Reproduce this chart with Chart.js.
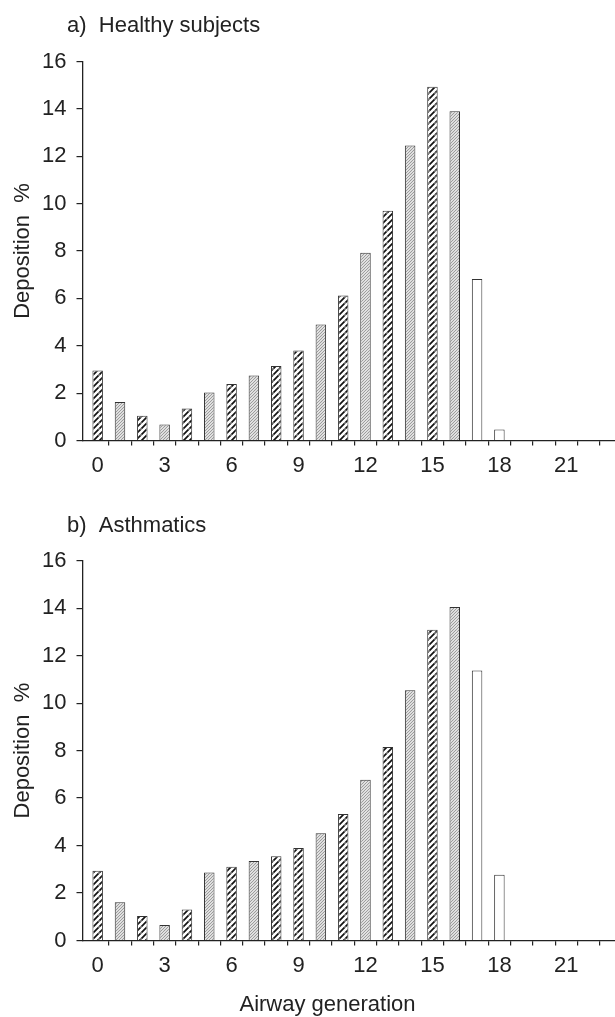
<!DOCTYPE html>
<html>
<head>
<meta charset="utf-8">
<script src="https://cdn.jsdelivr.net/npm/chart.js@4"></script>
<style>
  html, body { margin: 0; padding: 0; background: #fff; overflow: hidden; }
  canvas { display: block; }
</style>
</head>
<body>
<canvas id="healthyChart" width="615" height="480"></canvas>
<canvas id="asthmaChart" width="615" height="537"></canvas>
<script>
// airway generations 0..23
const generations = [0, 1, 2, 3, 4, 5, 6, 7, 8, 9, 10, 11, 12, 13, 14, 15, 16, 17, 18, 19, 20, 21, 22, 23];
const xTickLabels = ['0', '3', '6', '9', '12', '15', '18', '21'];
const yTicks = [0, 2, 4, 6, 8, 10, 12, 14, 16];

// deposition % per generation
const healthyDeposition = [2.95, 1.63, 1.05, 0.68, 1.35, 2.03, 2.38, 2.74, 3.15, 3.8, 4.9, 6.12, 7.93, 9.7, 12.45, 14.93, 13.9, 6.82, 0.46, 0, 0, 0, 0, 0];
const asthmaDeposition = [2.94, 1.61, 1.03, 0.65, 1.31, 2.86, 3.11, 3.35, 3.55, 3.9, 4.52, 5.33, 6.77, 8.15, 10.54, 13.09, 14.05, 11.37, 2.77, 0, 0, 0, 0, 0];

// fill style per generation: black dashed hatch, grey hatch, or plain
const darkHatched = [0, 2, 4, 6, 8, 9, 11, 13, 15];
const lastHatched = 16;

const FONT_FAMILY = "'Liberation Sans Narrow', 'Arial Narrow', 'Liberation Sans', Arial, sans-serif";
const FONT_SIZE = 22;
const INK = '#222';

function makePattern(ctx, kind) {
  const c = document.createElement('canvas');
  c.width = 6;
  c.height = 6;
  const g = c.getContext('2d');
  g.fillStyle = '#fff';
  g.fillRect(0, 0, 6, 6);
  if (kind === 'dark') {
    g.strokeStyle = '#111';
    g.lineWidth = 1.7;
    g.beginPath();
    g.moveTo(-1, 7);
    g.lineTo(7, -1);
    g.moveTo(-1, 1);
    g.lineTo(1, -1);
    g.moveTo(5, 7);
    g.lineTo(7, 5);
    g.stroke();
    // small breaks so the strokes read as dashes
    g.fillStyle = '#fff';
    g.fillRect(2.4, 2.4, 1.2, 1.2);
  } else {
    g.strokeStyle = '#9a9a9a';
    g.lineWidth = 1.2;
    g.beginPath();
    for (let s = 0; s <= 12; s += 3) {
      g.moveTo(s + 1, -1);
      g.lineTo(-1, s + 1);
    }
    g.stroke();
  }
  return ctx.createPattern(c, 'repeat');
}

// panel caption and optional x-axis caption, drawn as canvas text
const captions = {
  id: 'captions',
  afterDraw(chart, args, opts) {
    const c = chart.ctx;
    c.save();
    c.font = FONT_SIZE + 'px ' + FONT_FAMILY;
    c.fillStyle = INK;
    c.textBaseline = 'alphabetic';
    c.textAlign = 'left';
    c.fillText(opts.text, 67, opts.baseline);
    if (opts.xTitle) {
      c.textAlign = 'center';
      c.fillText(opts.xTitle, 327.5, opts.xTitleBaseline);
    }
    c.restore();
  }
};

function drawPanel(id, title, titleBaseline, values, topPad, xHeight, xTitle) {
  const ctx = document.getElementById(id).getContext('2d');
  const dark = makePattern(ctx, 'dark');
  const light = makePattern(ctx, 'light');
  const fills = generations.map(g => {
    if (g > lastHatched) return '#fff';
    return darkHatched.includes(g) ? dark : light;
  });

  return new Chart(ctx, {
    type: 'bar',
    data: {
      datasets: [{
        data: generations.map((g, i) => ({ x: g, y: values[i] })),
        backgroundColor: fills,
        borderColor: '#333',
        borderWidth: 1,
        barPercentage: 0.47,
        categoryPercentage: 1
      }]
    },
    plugins: [captions],
    options: {
      responsive: false,
      animation: false,
      layout: { padding: { top: topPad, left: 0, right: 0, bottom: 0 } },
      plugins: {
        legend: { display: false },
        tooltip: { enabled: false },
        captions: { text: title, baseline: titleBaseline, xTitle: xTitle, xTitleBaseline: 531 }
      },
      scales: {
        x: {
          type: 'linear',
          min: -0.68,
          max: 23.18,
          offset: false,
          afterBuildTicks: s => {
            s.ticks = generations.slice(0, 23).map(g => ({ value: g + 0.5 }));
          },
          afterFit: s => { s.height = xHeight; },
          grid: { drawOnChartArea: false, drawTicks: true, tickLength: 5, tickColor: INK, lineWidth: 1.2, offset: false },
          border: { color: INK, width: 1.3 },
          ticks: {
            autoSkip: false,
            maxRotation: 0,
            padding: 7,
            labelOffset: -11.15,
            color: INK,
            font: { family: FONT_FAMILY, size: FONT_SIZE },
            callback: v => {
              const label = String(Math.round(v - 0.5));
              return xTickLabels.includes(label) ? label : '';
            }
          }
        },
        y: {
          min: 0,
          max: 16,
          afterBuildTicks: s => { s.ticks = yTicks.map(v => ({ value: v })); },
          afterFit: s => { s.width = 82.5; },
          grid: { drawOnChartArea: false, drawTicks: true, tickLength: 6, tickColor: INK, lineWidth: 1.2 },
          border: { color: INK, width: 1.3 },
          ticks: {
            padding: 10,
            color: INK,
            font: { family: FONT_FAMILY, size: FONT_SIZE }
          },
          title: {
            display: true,
            text: 'Deposition  %',
            color: INK,
            font: { family: FONT_FAMILY, size: FONT_SIZE },
            padding: { top: 10, bottom: 0 }
          }
        }
      }
    }
  });
}

drawPanel('healthyChart', 'a)  Healthy subjects', 32, healthyDeposition, 61.5, 39.5, null);
drawPanel('asthmaChart', 'b)  Asthmatics', 52, asthmaDeposition, 80.7, 76.5, 'Airway generation');
</script>
</body>
</html>
